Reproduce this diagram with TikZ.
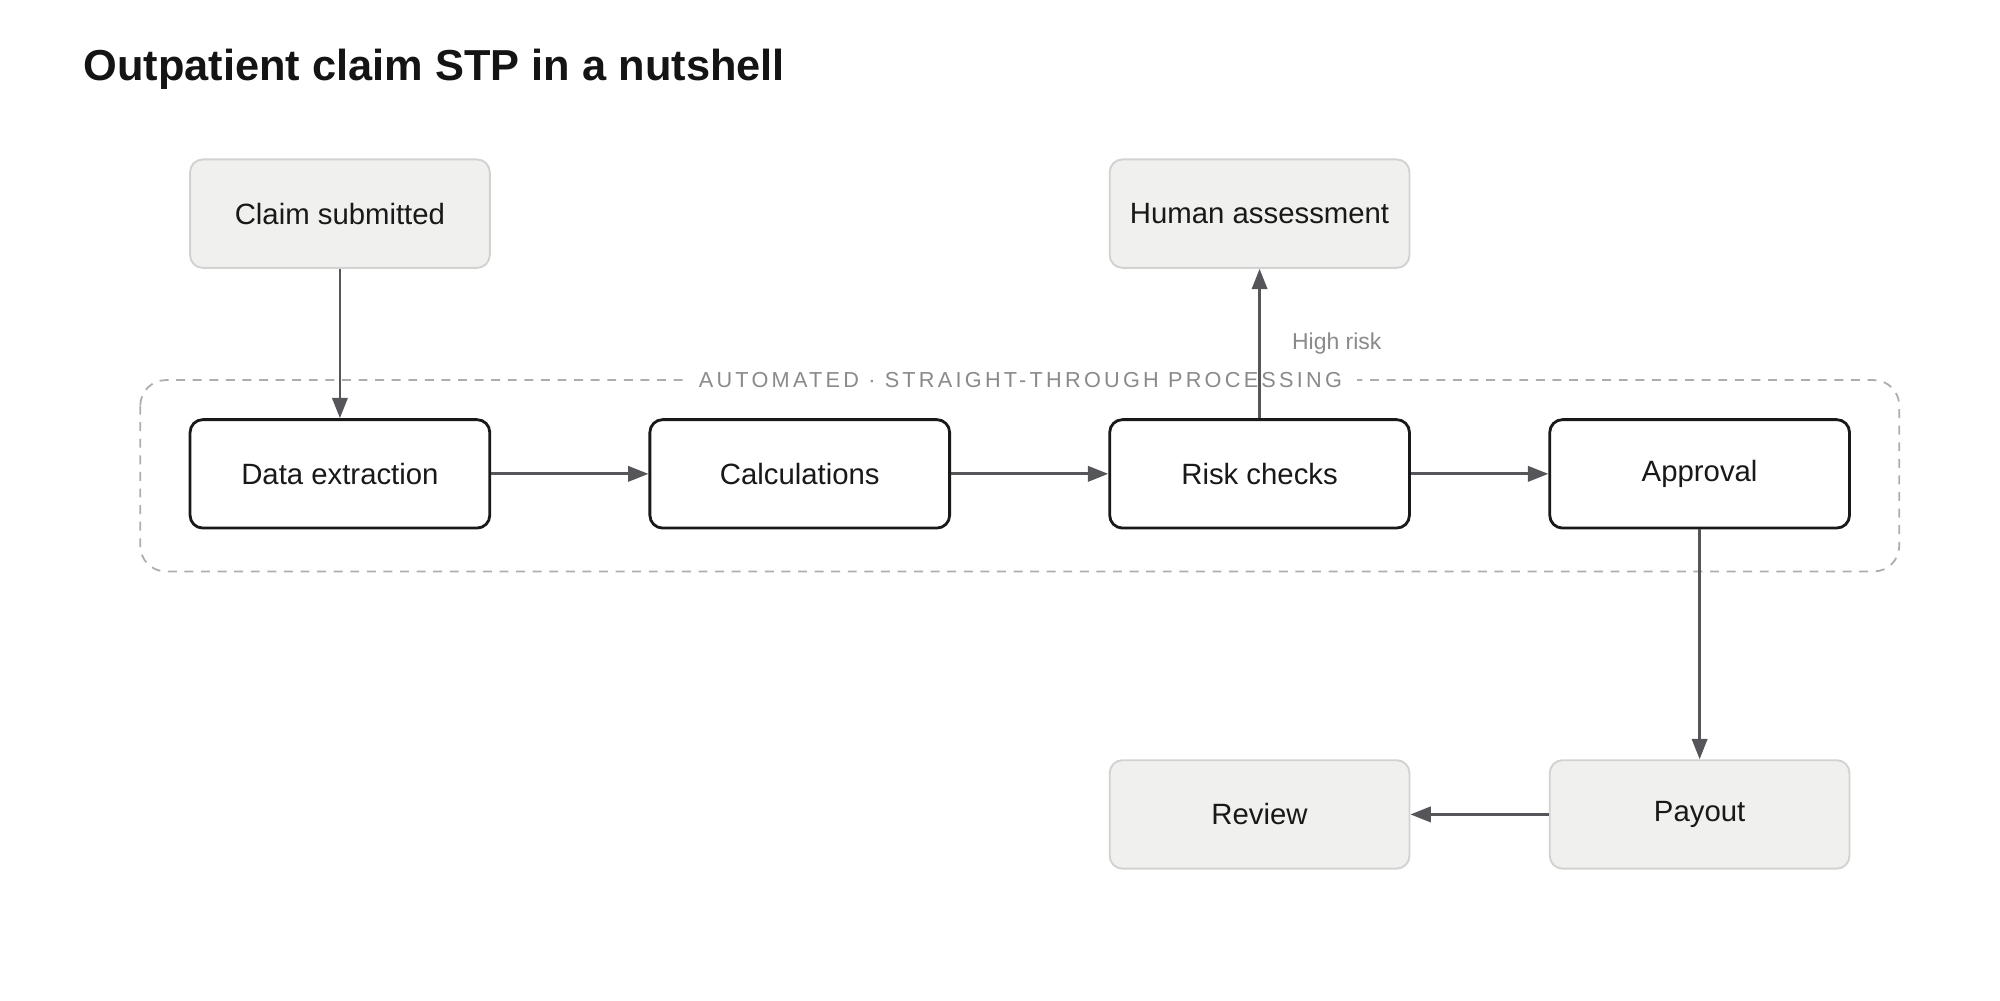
\documentclass[tikz,border=0pt]{standalone}
\usepackage{fontspec}
\setmainfont{Liberation Sans}
\usetikzlibrary{arrows.meta}
\definecolor{boxfill}{HTML}{F0F0EE}
\definecolor{boxline}{HTML}{D2D2D0}
\definecolor{arr}{HTML}{55555A}
\definecolor{lbl}{HTML}{8A8A8A}
\tikzset{
 core/.style={draw=black!90,line width=2.2pt,rounded corners=10pt,minimum width=235pt,minimum height=85pt,fill=white,font=\fontsize{23}{27}\selectfont,text=black!90},
 ext/.style={draw=boxline,line width=1.5pt,fill=boxfill,rounded corners=10pt,minimum width=235pt,minimum height=85pt,font=\fontsize{23}{27}\selectfont,text=black!90},
 flow/.style={draw=arr,line width=2.2pt,-{Triangle[length=16pt,width=12pt]}}
}
\begin{document}
\begin{tikzpicture}[x=1pt,y=-1pt]
\useasboundingbox (0,0) rectangle (1568,784);
\node[anchor=west,font=\bfseries\fontsize{34}{40}\selectfont,text=black!92] (title) at (62,54) {Outpatient claim STP in a nutshell};
\draw[lbl!70,line width=1.4pt,dash pattern=on 7pt off 6pt,rounded corners=20pt] (110,298) rectangle (1489,448);
\node[fill=white,text=lbl,font=\fontsize{17}{20}\selectfont\addfontfeature{LetterSpace=15},inner xsep=12pt] (grp) at (800,298) {AUTOMATED · STRAIGHT-THROUGH PROCESSING};
\node[ext] (claim) at (266.5,167.5) {Claim submitted};
\node[ext] (human) at (987.5,167.5) {Human assessment};
\node[core] (data) at (266.5,371.5) {Data extraction};
\node[core] (calc) at (627,371.5) {Calculations};
\node[core] (risk) at (987.5,371.5) {Risk checks};
\node[core] (appr) at (1332.5,371.5) {Approval};
\node[ext] (rev) at (987.5,638.5) {Review};
\node[ext] (pay) at (1332.5,638.5) {Payout};
\draw[flow] (claim) -- (data);
\draw[flow] (data) -- (calc);
\draw[flow] (calc) -- (risk);
\draw[flow] (risk) -- (appr);
\draw[flow] (risk) -- (human);
\draw[flow] (appr) -- (pay);
\draw[flow] (pay) -- (rev);
\node[text=lbl,font=\fontsize{18}{21}\selectfont] (hr) at (1048,269) {High risk};
\end{tikzpicture}
\end{document}
